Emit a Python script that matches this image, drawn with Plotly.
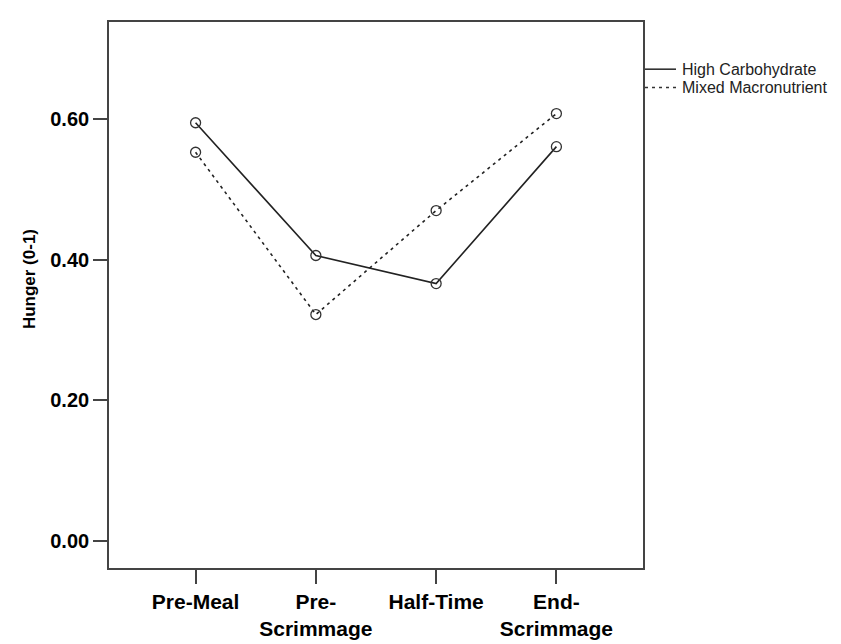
import plotly.graph_objects as go

categories = ["Pre-Meal", "Pre-<br>Scrimmage", "Half-Time", "End-<br>Scrimmage"]
high_carb = [0.595, 0.406, 0.366, 0.561]
mixed_macro = [0.553, 0.322, 0.470, 0.608]
series_names = ["High Carbohydrate", "Mixed Macronutrient"]
y_ticks = [0.0, 0.2, 0.4, 0.6]
y_tick_labels = ["0.00", "0.20", "0.40", "0.60"]
y_title = "Hunger (0-1)"

W, H = 841, 644
L, R, T, B = 101, 206, 14, 63
pw, ph = W - L - R, H - T - B

def px_x(p):
    return (p - L) / pw

def px_y(p):
    return (H - B - p) / ph

xi = list(range(len(categories)))
dashes = ["solid", "3px,4px"]
fig = go.Figure()
for name, vals, dash in zip(series_names, [high_carb, mixed_macro], dashes):
    fig.add_trace(go.Scatter(x=xi, y=vals, mode="lines", name=name, showlegend=False,
                             line=dict(color="#222222", width=1.6, dash=dash)))
for name, vals in zip(series_names, [high_carb, mixed_macro]):
    fig.add_trace(go.Scatter(x=xi, y=vals, mode="markers", showlegend=False,
                             marker=dict(symbol="circle-open", size=10, color="#333333",
                                         line=dict(width=1.3, color="#333333"))))

# legend drawn at the right of the plot box
legend_rows = [63, 82]
for name, dash, row in zip(series_names, dashes, legend_rows):
    fig.add_shape(type="line", xref="paper", yref="paper",
                  x0=px_x(637), x1=px_x(668), y0=px_y(row), y1=px_y(row),
                  line=dict(color="#333333", width=1.6, dash=dash))
    fig.add_annotation(xref="paper", yref="paper", x=px_x(673), y=px_y(row),
                       xanchor="left", yanchor="middle", showarrow=False, borderpad=0,
                       text=name, font=dict(size=16, color="#222222"))

fig.add_annotation(xref="paper", yref="paper", x=px_x(21), y=px_y(281),
                   xanchor="center", yanchor="middle", showarrow=False, textangle=-90,
                   text="<b>" + y_title + "</b>", font=dict(size=17, color="black"))

fig.update_layout(
    width=W, height=H,
    margin=dict(l=L, r=R, t=T, b=B),
    paper_bgcolor="white", plot_bgcolor="white",
    font=dict(family="Liberation Sans, Arial", size=20, color="black"),
    showlegend=False,
)
fig.update_xaxes(range=[-0.72, 3.72], tickmode="array", tickvals=xi,
                 ticktext=["<b>" + c.replace("<br>", "</b><br><b>") + "</b>" for c in categories],
                 showline=True, linecolor="#444444", linewidth=1.6, mirror=True,
                 ticks="outside", ticklen=14, tickcolor="#444444", tickwidth=1.6,
                 showgrid=False, zeroline=False, tickfont=dict(size=21))
fig.update_yaxes(range=[-0.0388, 0.7384], tickmode="array", tickvals=y_ticks,
                 ticktext=["<b>" + t + "</b>" for t in y_tick_labels],
                 showline=True, linecolor="#444444", linewidth=1.6, mirror=True,
                 ticks="outside", ticklen=14, tickcolor="#444444", tickwidth=1.6,
                 showgrid=False, zeroline=False, tickfont=dict(size=20))
fig.write_html("out.html")
